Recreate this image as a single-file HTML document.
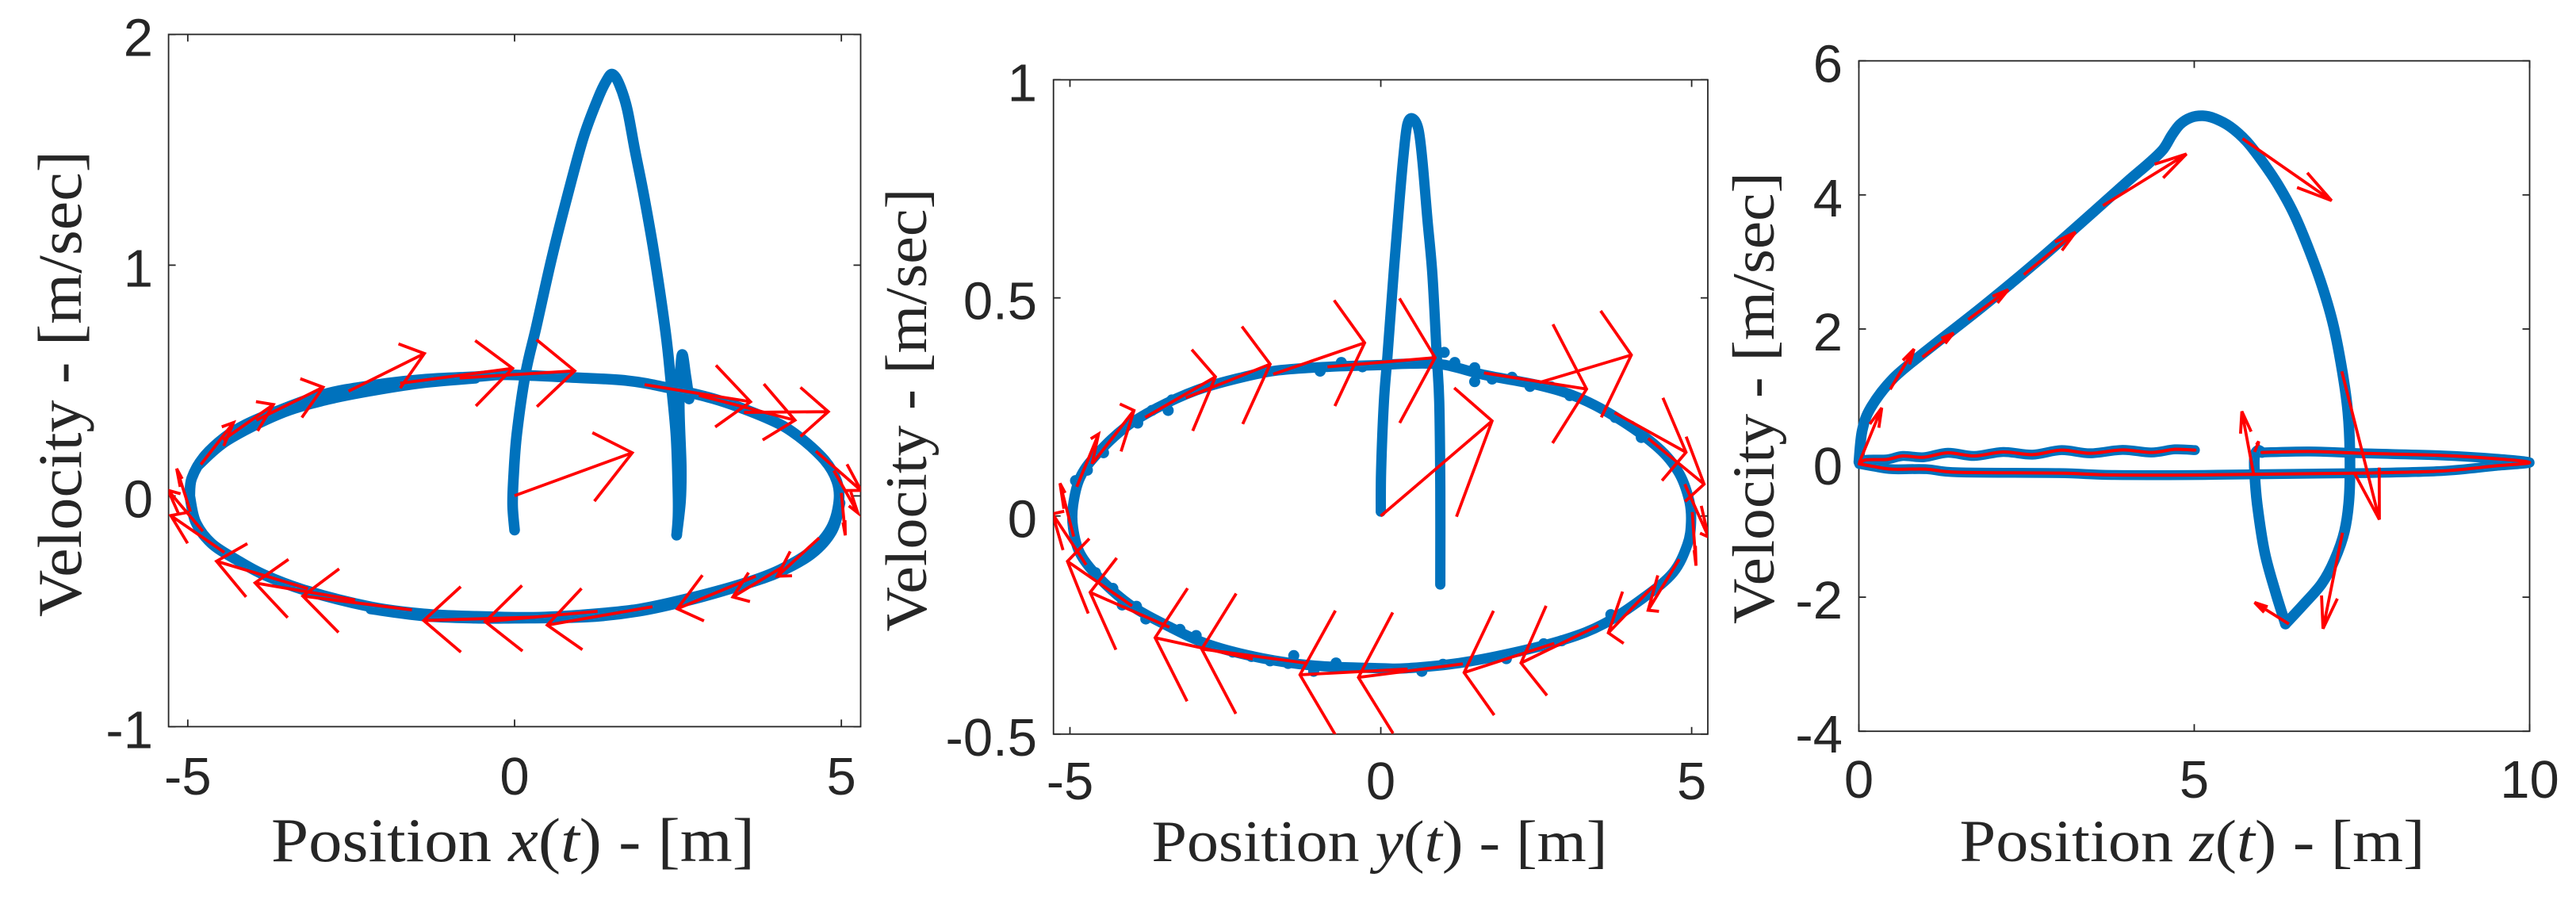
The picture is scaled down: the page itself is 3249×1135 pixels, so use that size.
<!DOCTYPE html>
<html lang="en">
<head>
<meta charset="utf-8">
<title>Phase portraits: velocity versus position</title>
<style>
html,body{margin:0;padding:0;background:#fff;}
svg{display:block;}
text{fill:#262626;}
.tick{font-family:"Liberation Sans",sans-serif;}
.label{font-family:"Liberation Serif",serif;}
</style>
</head>
<body>
<svg id="figure" xmlns="http://www.w3.org/2000/svg" width="3249" height="1135" viewBox="0 0 3249 1135">
<rect x="0" y="0" width="3249" height="1135" fill="#ffffff"/>
</svg>
<script>
/* ---------- Panel 1: x(t) ---------- */
const xTicks1 = [-5, 0, 5];
const yTicks1 = [-1, 0, 1, 2];
const xTickLabels1 = ['-5', '0', '5'];
const yTickLabels1 = ['-1', '0', '1', '2'];
const stemX1 = [0, -0.03, -0.015, 0.035, 0.17, 0.33, 0.565, 0.79, 1.05, 1.28, 1.407, 1.496, 1.6, 1.72, 1.84, 1.98, 2.135, 2.31, 2.39, 2.47, 2.5, 2.5, 2.48];
const stemY1 = [-0.148, -0.04, 0.085, 0.27, 0.534, 0.73, 1.026, 1.28, 1.55, 1.725, 1.8, 1.828, 1.785, 1.68, 1.5, 1.3, 1.049, 0.711, 0.5, 0.259, 0.01, -0.09, -0.17];
const returnX1 = [2.48, 2.54, 2.55, 2.52, 2.56, 2.62, 2.67];
const returnY1 = [-0.17, -0.02, 0.13, 0.4, 0.61, 0.52, 0.42];
const loopX1 = [-4.97, -4.94, -4.76, -4.44, -4.11, -3.63, -2.92, -2.21, -1.4, -0.59, -0.11, 0.9, 1.71, 2.32, 3.13, 3.93, 4.34, 4.74, 4.93, 4.96, 4.84, 4.54, 4.06, 3.53, 2.72, 1.91, 1.1, 0.29, -0.59, -1.4, -2.21, -3.18, -3.83, -4.27, -4.64, -4.88, -4.97];
const loopY1 = [0, 0.076, 0.167, 0.253, 0.31, 0.368, 0.44, 0.478, 0.505, 0.517, 0.525, 0.513, 0.5, 0.47, 0.414, 0.328, 0.259, 0.156, 0.064, -0.027, -0.142, -0.239, -0.32, -0.377, -0.44, -0.49, -0.514, -0.526, -0.522, -0.511, -0.48, -0.411, -0.342, -0.274, -0.205, -0.113, 0];
const lapTopX1 = [-4.85, -4.4, -3.6, -2.9, -2.2, -1.4, -0.6];
const lapTopY1 = [0.13, 0.24, 0.355, 0.415, 0.455, 0.49, 0.51];
const lapBottomX1 = [4.98, 4.86, 4.55, 4.05, 3.5, 2.7, 1.9, 1.1, 0, -0.6, -1.4, -2.2];
const lapBottomY1 = [-0.03, -0.15, -0.25, -0.33, -0.385, -0.45, -0.5, -0.525, -0.53, -0.53, -0.52, -0.49];
const arrowX1 = [-4.8, -4.46, -3.95, -2.54, -1.75, -0.84, 1.99, 2.82, 3.51, 4.61, 4.885, 5.0, 4.66, 4.1, 3.69, 2.11, 1.27, 0.33, -1.57, -2.44, -3.16, -4.44, -4.77, -4.96, 0];
const arrowY1 = [0.136, 0.242, 0.328, 0.454, 0.488, 0.511, 0.482, 0.436, 0.362, 0.194, 0.11, 0.013, -0.182, -0.308, -0.348, -0.48, -0.5, -0.525, -0.494, -0.451, -0.402, -0.245, -0.153, -0.068, 0.001];
const arrowU1 = [0.5, 0.77, 1.02, 1.16, 1.72, 1.76, 1.62, 1.47, 1.29, 0.69, 0.365, 0.06, -0.64, -0.76, -1.2, -1.61, -1.72, -1.72, -1.67, -1.53, -1.4, -0.82, -0.53, -0.21, 1.8];
const arrowV1 = [0.182, 0.154, 0.143, 0.163, 0.065, 0.031, -0.074, -0.108, 0.003, -0.17, -0.183, -0.184, -0.166, -0.13, -0.141, -0.08, -0.045, -0.015, 0.06, 0.074, 0.119, 0.16, 0.177, 0.186, 0.186];

/* ---------- Panel 2: y(t) ---------- */
const xTicks2 = [-5, 0, 5];
const yTicks2 = [-0.5, 0, 0.5, 1];
const xTickLabels2 = ['-5', '0', '5'];
const yTickLabels2 = ['-0.5', '0', '0.5', '1'];
const stemX2 = [0, 0.005, 0.05, 0.108, 0.214, 0.3, 0.364, 0.427, 0.513, 0.606, 0.67, 0.75, 0.83, 0.9, 0.94, 0.957, 0.957];
const stemY2 = [0.01, 0.104, 0.262, 0.368, 0.571, 0.722, 0.825, 0.898, 0.911, 0.886, 0.813, 0.68, 0.553, 0.368, 0.262, 0.064, -0.157];
const loopX2 = [0, 0.41, 1, 1.68, 2.53, 3.17, 3.81, 4.45, 4.79, 4.96, 4.99, 4.93, 4.7, 4.23, 3.59, 2.96, 2.11, 1.26, 0.41, 0, -1.06, -1.91, -2.76, -3.4, -4.04, -4.55, -4.84, -4.95, -4.95, -4.84, -4.59, -4.12, -3.61, -2.97, -2.34, -1.7, -0.85, 0];
const loopY2 = [0.346, 0.349, 0.347, 0.323, 0.3, 0.272, 0.224, 0.158, 0.1, 0.036, -0.015, -0.066, -0.13, -0.187, -0.247, -0.283, -0.314, -0.337, -0.349, -0.349, -0.343, -0.326, -0.295, -0.254, -0.203, -0.139, -0.085, -0.027, 0.024, 0.087, 0.138, 0.202, 0.247, 0.288, 0.314, 0.333, 0.342, 0.346];
const bumpX2 = [1.02, 1.19, 1.51, 1.51, 1.79, 2.11, 2.4, 2.74, 3.04, 3.77, 4.02, 4.19, 3.7, 2.91, 2.62, 2.02, 1, 0.66, -0.976, -0.635, -0.296, -3.36, -3.42, -3.68, -3.91, -4.46, -4.72, -4.91, -1.4, -1.49, -0.72, -1.08, -1.78, -2.08, -2.38, -2.97, -3.23, -3.78, -3.93, -4.16, -4.31, -4.59];
const bumpY2 = [0.375, 0.352, 0.34, 0.308, 0.314, 0.318, 0.297, 0.296, 0.276, 0.226, 0.206, 0.18, -0.226, -0.286, -0.293, -0.327, -0.34, -0.356, 0.332, 0.352, 0.342, 0.266, 0.242, 0.242, 0.213, 0.145, 0.105, 0.081, -0.32, -0.338, -0.337, -0.356, -0.332, -0.322, -0.312, -0.274, -0.26, -0.236, -0.207, -0.204, -0.166, -0.13];
const arrowX2 = [-4.89, -4.63, -3.79, -3.135, -1.73, -0.857, 1.66, 2.55, 3.76, 4.3, 4.89, 5.01, 4.8, 4.38, 3.5, 2.79, 1.32, 0.43, -1.21, -2.06, -3.4, -4, -4.74, -4.94, 0];
const arrowY2 = [0.067, 0.122, 0.226, 0.271, 0.325, 0.342, 0.328, 0.306, 0.237, 0.178, 0.073, 0.009, -0.099, -0.161, -0.251, -0.292, -0.339, -0.351, -0.337, -0.328, -0.255, -0.206, -0.112, -0.047, 0];
const arrowU2 = [0.35, 0.66, 1.13, 1.355, 1.47, 1.73, 1.65, 1.48, 1.15, 0.9, 0.38, 0.06, -0.5, -0.72, -1.245, -1.45, -1.68, -1.73, -1.67, -1.57, -1.275, -1.04, -0.54, -0.22, 1.79];
const arrowV2 = [0.121, 0.12, 0.093, 0.077, 0.072, 0.021, -0.037, 0.063, -0.091, -0.105, -0.121, -0.123, -0.117, -0.107, -0.086, -0.067, -0.031, -0.013, 0.032, 0.049, 0.08, 0.102, 0.117, 0.122, 0.218];

/* ---------- Panel 3: z(t) ---------- */
const xTicks3 = [0, 5, 10];
const yTicks3 = [-4, -2, 0, 2, 4, 6];
const xTickLabels3 = ['0', '5', '10'];
const yTickLabels3 = ['-4', '-2', '0', '2', '4', '6'];
const riseX3 = [0, 0.05, 0.18, 0.51, 1, 1.84, 2.66, 3.49, 4.005, 4.32, 4.537, 4.665, 4.79, 4.95, 5.128, 5.305, 5.54, 5.78, 6.014, 6.25, 6.49, 6.72, 6.92, 7.08, 7.21, 7.29, 7.32, 7.31, 7.24, 7.09, 6.9, 6.62, 6.36];
const riseY3 = [0.015, 0.486, 0.83, 1.26, 1.67, 2.33, 3.01, 3.74, 4.2, 4.47, 4.68, 4.89, 5.054, 5.153, 5.18, 5.14, 5.015, 4.8, 4.5, 4.15, 3.71, 3.16, 2.6, 2.03, 1.35, 0.76, 0.166, -0.505, -1.017, -1.45, -1.8, -2.12, -2.4];
const fallX3 = [6.36, 6.21, 6.05, 5.94, 5.9, 5.9, 5.95, 6.01];
const fallY3 = [-2.4, -1.92, -1.33, -0.623, -0.15, 0.1, 0.19, 0.158];
const flatX3 = [6.01, 6.72, 7.51, 8.69, 9.48, 10, 9.48, 8.69, 7.51, 6.33, 5.15, 3.77, 2.98, 1.48, 1.01, 0.5, 0.222, 0.006];
const flatY3 = [0.158, 0.173, 0.146, 0.114, 0.067, 0.008, -0.043, -0.118, -0.15, -0.162, -0.177, -0.177, -0.15, -0.138, -0.091, -0.091, -0.051, -0.012];
const waveX3 = [0.006, 0.104, 0.42, 0.656, 0.97, 1.326, 1.72, 2.15, 2.59, 3.02, 3.45, 3.93, 4.36, 4.71, 5.01];
const waveY3 = [-0.012, 0.047, 0.055, 0.106, 0.087, 0.154, 0.106, 0.166, 0.126, 0.193, 0.146, 0.197, 0.158, 0.205, 0.193];
const arrowX3 = [0.006, 0.467, 0.948, 1.63, 2.46, 3.64, 5.72, 7.2, 7.21, 6.41, 5.89, 5.9];
const arrowY3 = [0.008, 1.1, 1.58, 2.14, 2.81, 3.84, 4.84, 1.368, -1.04, -2.4, -0.189, 0.166];
const arrowU3 = [0.335, 0.356, 0.464, 0.597, 0.77, 1.244, 1.327, 0.56, -0.29, -0.51, -0.18, 0.06];
const arrowV3 = [0.816, 0.6, 0.36, 0.445, 0.634, 0.77, -0.925, -2.21, -1.43, 0.32, 0.96, 0.157];

/* ---------- Quiver head proportions ---------- */
const headAlpha = 0.33;
const headBeta = 0.25;

const NS = 'http://www.w3.org/2000/svg';
const figure = document.getElementById('figure');
const BLUE = '#0072bd';
const RED = '#ff0000';
const AXIS = '#262626';

function make(tag, parent) {
  const el = document.createElementNS(NS, tag);
  parent.appendChild(el);
  return el;
}

function linearScale(domain, range) {
  return function (v) {
    return range[0] + (v - domain[0]) * (range[1] - range[0]) / (domain[1] - domain[0]);
  };
}

function smoothPath(xs, ys, sx, sy) {
  const px = xs.map(sx);
  const py = ys.map(sy);
  let d = 'M' + px[0].toFixed(2) + ' ' + py[0].toFixed(2);
  for (let i = 0; i < px.length - 1; i++) {
    const a = Math.max(i - 1, 0);
    const b = Math.min(i + 2, px.length - 1);
    const c1x = px[i] + (px[i + 1] - px[a]) / 6;
    const c1y = py[i] + (py[i + 1] - py[a]) / 6;
    const c2x = px[i + 1] - (px[b] - px[i]) / 6;
    const c2y = py[i + 1] - (py[b] - py[i]) / 6;
    d += 'C' + c1x.toFixed(2) + ' ' + c1y.toFixed(2) + ' ' + c2x.toFixed(2) + ' ' + c2y.toFixed(2) + ' ' + px[i + 1].toFixed(2) + ' ' + py[i + 1].toFixed(2);
  }
  return d;
}

function drawCurve(group, xs, ys, sx, sy, color, width, name) {
  const p = make('path', group);
  
  
  p.setAttribute('d', smoothPath(xs, ys, sx, sy));
  p.setAttribute('fill', 'none');
  p.setAttribute('stroke', color);
  p.setAttribute('stroke-width', width);
  p.setAttribute('stroke-linecap', 'round');
  p.setAttribute('stroke-linejoin', 'round');
}

function drawArrows(group, xs, ys, us, vs, sx, sy) {
  xs.forEach(function (x, i) {
    const y = ys[i], u = us[i], v = vs[i];
    const tipX = x + u, tipY = y + v;
    const b1x = tipX - headAlpha * (u + headBeta * v);
    const b1y = tipY - headAlpha * (v - headBeta * u);
    const b2x = tipX - headAlpha * (u - headBeta * v);
    const b2y = tipY - headAlpha * (v + headBeta * u);
    const d = 'M' + sx(x) + ' ' + sy(y) + 'L' + sx(tipX) + ' ' + sy(tipY) +
      'M' + sx(b1x) + ' ' + sy(b1y) + 'L' + sx(tipX) + ' ' + sy(tipY) + 'L' + sx(b2x) + ' ' + sy(b2y);
    const a = make('path', group);
    
    
    a.setAttribute('d', d);
    a.setAttribute('fill', 'none');
    a.setAttribute('stroke', RED);
    a.setAttribute('stroke-width', 3.8);
    a.setAttribute('stroke-linejoin', 'miter');
  });
}

function drawAxes(panel, g, sx, sy) {
  const box = make('rect', g);
  
  
  box.setAttribute('x', panel.left);
  box.setAttribute('y', panel.top);
  box.setAttribute('width', panel.right - panel.left);
  box.setAttribute('height', panel.bottom - panel.top);
  box.setAttribute('fill', 'none');
  box.setAttribute('stroke', AXIS);
  box.setAttribute('stroke-width', 1.8);

  panel.xTicks.forEach(function (t, i) {
    const x = sx(t);
    [[panel.bottom, panel.bottom - 9], [panel.top, panel.top + 9]].forEach(function (e) {
      const l = make('line', g);
      
      
      l.setAttribute('x1', x); l.setAttribute('x2', x);
      l.setAttribute('y1', e[0]); l.setAttribute('y2', e[1]);
      l.setAttribute('stroke', AXIS);
      l.setAttribute('stroke-width', 1.8);
    });
    const label = make('text', g);
    
    
    label.setAttribute('class', 'tick');
    label.setAttribute('x', x);
    label.setAttribute('y', panel.xTickBase);
    label.setAttribute('text-anchor', 'middle');
    label.setAttribute('font-size', panel.tickSize);
    label.textContent = panel.xTickLabels[i];
  });

  panel.yTicks.forEach(function (t, i) {
    const y = sy(t);
    [[panel.left, panel.left + 9], [panel.right, panel.right - 9]].forEach(function (e) {
      const l = make('line', g);
      
      
      l.setAttribute('x1', e[0]); l.setAttribute('x2', e[1]);
      l.setAttribute('y1', y); l.setAttribute('y2', y);
      l.setAttribute('stroke', AXIS);
      l.setAttribute('stroke-width', 1.8);
    });
    const label = make('text', g);
    
    
    label.setAttribute('class', 'tick');
    label.setAttribute('x', panel.yTickRight);
    label.setAttribute('y', y + 27);
    label.setAttribute('text-anchor', 'end');
    label.setAttribute('font-size', panel.tickSize);
    label.textContent = panel.yTickLabels[i];
  });

  const xl = make('text', g);
  
  
  xl.setAttribute('class', 'label');
  xl.setAttribute('x', panel.xLabelX);
  xl.setAttribute('y', 1086);
  xl.setAttribute('text-anchor', 'middle');
  xl.setAttribute('font-size', panel.labelSize);
  xl.setAttribute('textLength', panel.xLabelLength);
  xl.setAttribute('lengthAdjust', 'spacingAndGlyphs');
  xl.appendChild(document.createTextNode('Position '));
  const varName = make('tspan', xl);
  varName.setAttribute('font-style', 'italic');
  varName.textContent = panel.variable;
  xl.appendChild(document.createTextNode('('));
  const tName = make('tspan', xl);
  tName.setAttribute('font-style', 'italic');
  tName.textContent = 't';
  xl.appendChild(document.createTextNode(') - [m]'));

  const yl = make('text', g);
  
  
  yl.setAttribute('class', 'label');
  yl.setAttribute('x', panel.yLabelX);
  yl.setAttribute('y', panel.yLabelY);
  yl.setAttribute('text-anchor', 'middle');
  yl.setAttribute('font-size', panel.labelSize);
  yl.setAttribute('textLength', panel.yLabelLength);
  yl.setAttribute('lengthAdjust', 'spacingAndGlyphs');
  yl.setAttribute('transform', 'rotate(-90 ' + panel.yLabelX + ' ' + panel.yLabelY + ')');
  yl.textContent = 'Velocity - [m/sec]';
}

function setupPanel(panel) {
  const g = make('g', figure);
  
  
  const sx = linearScale(panel.xDomain, [panel.left, panel.right]);
  const sy = linearScale(panel.yDomain, [panel.bottom, panel.top]);
  drawAxes(panel, g, sx, sy);
  const clip = make('clipPath', g);
  clip.setAttribute('id', panel.name + '-clip');
  const cr = make('rect', clip);
  cr.setAttribute('x', panel.left);
  cr.setAttribute('y', panel.top);
  cr.setAttribute('width', panel.right - panel.left);
  cr.setAttribute('height', panel.bottom - panel.top);
  const plot = make('g', g);
  
  
  plot.setAttribute('clip-path', 'url(#' + panel.name + '-clip)');
  return { plot: plot, sx: sx, sy: sy };
}

/* Panel 1 */
const p1 = setupPanel({
  name: 'panel-x', variable: 'x', left: 212.6, right: 1085.5, top: 43.4, bottom: 916.4,
  xDomain: [-5.294, 5.295], yDomain: [-1, 2],
  xTicks: xTicks1, yTicks: yTicks1, xTickLabels: xTickLabels1, yTickLabels: yTickLabels1,
  xTickBase: 1002, yTickRight: 193, tickSize: 67, labelSize: 78,
  xLabelX: 647, xLabelLength: 610, yLabelX: 102, yLabelY: 484, yLabelLength: 588
});
drawCurve(p1.plot, loopX1, loopY1, p1.sx, p1.sy, BLUE, 13.5, 'trajectory-orbit');
drawCurve(p1.plot, lapTopX1, lapTopY1, p1.sx, p1.sy, BLUE, 13.5, 'trajectory-orbit-lap-top');
drawCurve(p1.plot, lapBottomX1, lapBottomY1, p1.sx, p1.sy, BLUE, 13.5, 'trajectory-orbit-lap-bottom');
drawCurve(p1.plot, stemX1, stemY1, p1.sx, p1.sy, BLUE, 13.5, 'trajectory-stem');
drawCurve(p1.plot, returnX1, returnY1, p1.sx, p1.sy, BLUE, 13.5, 'trajectory-return');
drawArrows(p1.plot, arrowX1, arrowY1, arrowU1, arrowV1, p1.sx, p1.sy);

/* Panel 2 */
const p2 = setupPanel({
  name: 'panel-y', variable: 'y', left: 1328.7, right: 2154, top: 100.6, bottom: 925.8,
  xDomain: [-5.265, 5.26], yDomain: [-0.5, 1],
  xTicks: xTicks2, yTicks: yTicks2, xTickLabels: xTickLabels2, yTickLabels: yTickLabels2,
  xTickBase: 1008, yTickRight: 1308, tickSize: 67, labelSize: 74,
  xLabelX: 1740, xLabelLength: 575, yLabelX: 1168, yLabelY: 517, yLabelLength: 559
});
drawCurve(p2.plot, loopX2, loopY2, p2.sx, p2.sy, BLUE, 13, 'trajectory-orbit');
bumpX2.forEach(function (x, i) {
  const c = make('circle', p2.plot);
  
  
  c.setAttribute('cx', p2.sx(x));
  c.setAttribute('cy', p2.sy(bumpY2[i]));
  c.setAttribute('r', 7);
  c.setAttribute('fill', BLUE);
});
drawCurve(p2.plot, stemX2, stemY2, p2.sx, p2.sy, BLUE, 13, 'trajectory-stem');
drawArrows(p2.plot, arrowX2, arrowY2, arrowU2, arrowV2, p2.sx, p2.sy);

/* Panel 3 */
const p3 = setupPanel({
  name: 'panel-z', variable: 'z', left: 2344.5, right: 3190.5, top: 76.7, bottom: 922.2,
  xDomain: [0, 10], yDomain: [-4, 6],
  xTicks: xTicks3, yTicks: yTicks3, xTickLabels: xTickLabels3, yTickLabels: yTickLabels3,
  xTickBase: 1006, yTickRight: 2324, tickSize: 67, labelSize: 75,
  xLabelX: 2765, xLabelLength: 587, yLabelX: 2237, yLabelY: 502, yLabelLength: 570
});
/* The trajectory in this panel sits on the axis limits and overdraws the box */
p3.plot.removeAttribute('clip-path');
drawCurve(p3.plot, riseX3, riseY3, p3.sx, p3.sy, BLUE, 13.5, 'trajectory-rise');
drawCurve(p3.plot, fallX3, fallY3, p3.sx, p3.sy, BLUE, 13.5, 'trajectory-fall');
drawCurve(p3.plot, flatX3, flatY3, p3.sx, p3.sy, BLUE, 12.5, 'trajectory-flat');
drawCurve(p3.plot, waveX3, waveY3, p3.sx, p3.sy, BLUE, 12.5, 'trajectory-wave');
drawCurve(p3.plot, flatX3, flatY3, p3.sx, p3.sy, RED, 4, 'velocity-arrows-flat');
drawCurve(p3.plot, waveX3, waveY3, p3.sx, p3.sy, RED, 4, 'velocity-arrows-wave');
drawArrows(p3.plot, arrowX3, arrowY3, arrowU3, arrowV3, p3.sx, p3.sy);
</script>
</body>
</html>
